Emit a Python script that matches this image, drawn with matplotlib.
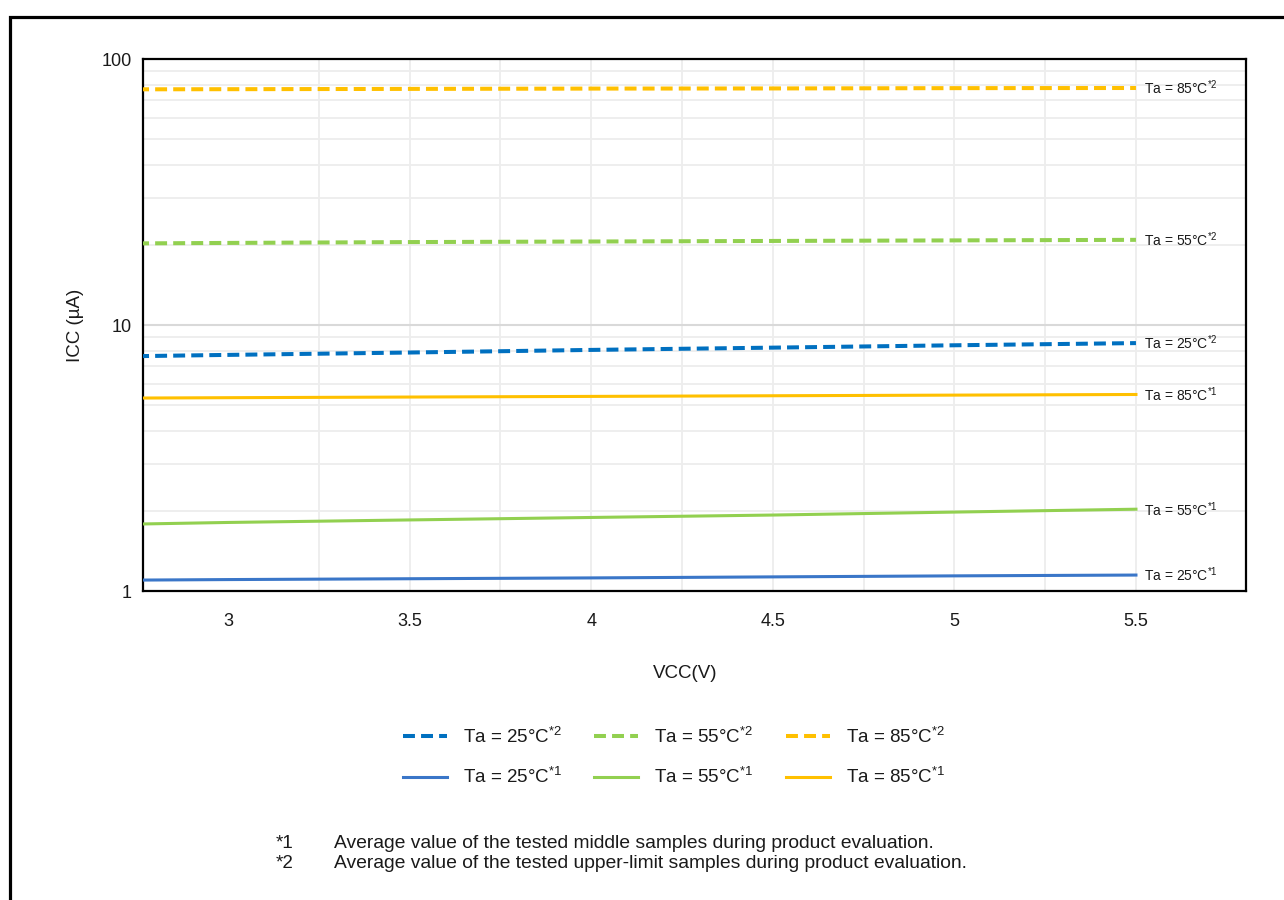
import matplotlib
matplotlib.use("Agg")
import matplotlib.pyplot as plt
from matplotlib.lines import Line2D
import numpy as np

plt.rcParams['font.family'] = ['Liberation Sans', 'DejaVu Sans']
plt.rcParams['mathtext.fontset'] = 'custom'
plt.rcParams['mathtext.rm'] = 'Liberation Sans'
plt.rcParams['mathtext.it'] = 'Liberation Sans'
plt.rcParams['mathtext.default'] = 'regular'
plt.rcParams['lines.scale_dashes'] = False

# ---- data ----
vcc = [2.7, 3.0, 3.5, 4.0, 4.5, 5.0, 5.5]
icc_25_upper = [7.62, 7.72, 7.88, 8.06, 8.22, 8.39, 8.55]
icc_55_upper = [20.25, 20.35, 20.5, 20.6, 20.7, 20.8, 20.9]
icc_85_upper = [76.9, 77.0, 77.2, 77.4, 77.5, 77.7, 77.8]
icc_25_mid = [1.098, 1.104, 1.112, 1.12, 1.13, 1.14, 1.148]
icc_55_mid = [1.78, 1.81, 1.85, 1.89, 1.93, 1.98, 2.03]
icc_85_mid = [5.31, 5.33, 5.36, 5.39, 5.42, 5.45, 5.48]

x_ticks = [3, 3.5, 4, 4.5, 5, 5.5]
x_tick_labels = ['3', '3.5', '4', '4.5', '5', '5.5']
x_grid = [3.25, 3.5, 3.75, 4.0, 4.25, 4.5, 4.75, 5.0, 5.25, 5.5]
y_ticks = [1, 10, 100]
y_tick_labels = ['1', '10', '100']

series_labels = ['Ta = 25°C$^{*2}$', 'Ta = 55°C$^{*2}$', 'Ta = 85°C$^{*2}$',
                 'Ta = 25°C$^{*1}$', 'Ta = 55°C$^{*1}$', 'Ta = 85°C$^{*1}$']
series_values = [icc_25_upper, icc_55_upper, icc_85_upper,
                 icc_25_mid, icc_55_mid, icc_85_mid]
series_colors = ['#0070C0', '#92D050', '#FFC000', '#3A76C8', '#92D050', '#FFC000']
series_dashed = [True, True, True, False, False, False]

footnotes = [('*1', 'Average value of the tested middle samples during product evaluation.'),
             ('*2', 'Average value of the tested upper-limit samples during product evaluation.')]

W, H = 1284, 900
fig = plt.figure(figsize=(W / 100, H / 100), dpi=100)
ax = fig.add_axes([143 / W, 1 - 591 / H, (1246 - 143) / W, (591 - 59) / H])

ax.set_yscale('log')
ax.set_ylim(1, 100)
ax.set_xlim(2.766, 5.803)

# grid
for gx in x_grid:
    ax.axvline(gx, color='#EDEDED', lw=1.3, zorder=0)
for dec in [1, 10]:
    for m in range(2, 10):
        ax.axhline(dec * m, color='#EDEDED', lw=1.3, zorder=0)
ax.axhline(10, color='#D9D9D9', lw=1.5, zorder=0)

handles = []
for lab, vals, col, dashed in zip(series_labels, series_values, series_colors, series_dashed):
    if dashed:
        ln, = ax.plot(vcc, vals, color=col, lw=2.9, linestyle=(0, (8.6, 4.4)),
                      dash_capstyle='butt', label=lab, zorder=3)
    else:
        ln, = ax.plot(vcc, vals, color=col, lw=2.2, label=lab, zorder=3)
    handles.append(ln)
    ax.annotate(lab, xy=(vcc[-1], vals[-1]), xytext=(6, 0), textcoords='offset points',
                ha='left', va='center', fontsize=10, color='#1a1a1a', zorder=4)

for s in ax.spines.values():
    s.set_color('black')
    s.set_linewidth(1.6)

ax.set_xticks(x_ticks)
ax.set_xticklabels(x_tick_labels)
ax.set_yticks(y_ticks)
ax.set_yticklabels(y_tick_labels)
ax.yaxis.set_minor_locator(matplotlib.ticker.NullLocator())
ax.tick_params(axis='both', length=0, labelsize=13, colors='#1a1a1a')
ax.tick_params(axis='x', pad=16)
ax.tick_params(axis='y', pad=8)

fig.text(76 / W, 1 - 325 / H, 'ICC (µA)', rotation=90, ha='center', va='center',
         fontsize=13.5, color='#1a1a1a')
fig.text(685 / W, 1 - 674 / H, 'VCC(V)', ha='center', va='center',
         fontsize=13.5, color='#1a1a1a')

# legend: row 1 dashed, row 2 solid
order = [0, 3, 1, 4, 2, 5]
leg = fig.legend([handles[i] for i in order], [series_labels[i] for i in order],
                 loc='center', bbox_to_anchor=(674 / W, 1 - 757 / H), ncol=3,
                 frameon=False, fontsize=13.5, handlelength=2.35, handletextpad=0.85,
                 columnspacing=1.73, labelspacing=1.08)
for t in leg.get_texts():
    t.set_color('#1a1a1a')

for i, (mark, txt) in enumerate(footnotes):
    yy = 1 - (843 + 20 * i) / H
    fig.text(276 / W, yy, mark, ha='left', va='center', fontsize=13.5, color='#1a1a1a')
    fig.text(334 / W, yy, txt, ha='left', va='center', fontsize=13.9, color='#1a1a1a')

# outer border (left and top)
fig.add_artist(Line2D([10.5 / W, 10.5 / W, 1.0], [0.0, 1 - 16.5 / H, 1 - 16.5 / H],
                      transform=fig.transFigure, color='black', lw=2.3,
                      solid_joinstyle='miter'))

fig.savefig('out.png', dpi=100, facecolor='white')
